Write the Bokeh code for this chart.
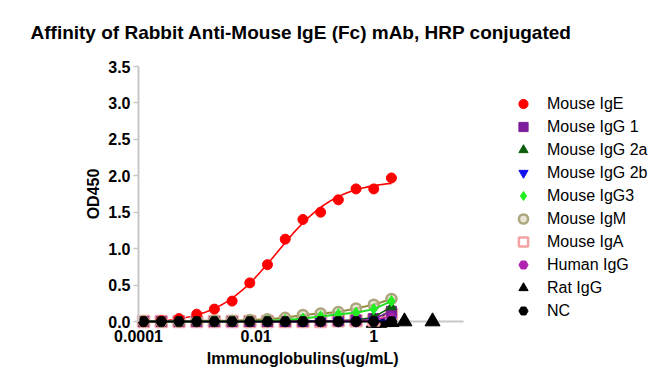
import numpy as np
from bokeh.plotting import figure
from bokeh.models import (Range1d, FixedTicker, PrintfTickFormatter, Legend, LegendItem,
                          ColumnDataSource)
from bokeh.core.properties import value
from bokeh.embed import file_html
from bokeh.resources import INLINE

# ---------------- data ----------------
conc = [0.000122, 0.000244, 0.000488, 0.000977, 0.00195, 0.00391, 0.00781,
        0.0156, 0.03125, 0.0625, 0.125, 0.25, 0.5, 1.0, 2.0]
mouse_ige = [0.00, 0.01, 0.04, 0.10, 0.17, 0.28, 0.53, 0.78, 1.13, 1.40, 1.50, 1.67, 1.82, 1.82, 1.97]
mouse_igg1 = [0.00, 0.00, 0.00, 0.00, 0.00, 0.00, 0.00, 0.00, 0.00, 0.00, 0.01, 0.01, 0.02, 0.04, 0.14]
mouse_igg2a = [0.00, 0.00, 0.00, 0.00, 0.00, 0.00, 0.00, 0.00, 0.00, 0.00, 0.01, 0.01, 0.02, 0.06, 0.20]
mouse_igg2b = [0.00, 0.00, 0.00, 0.00, 0.00, 0.00, 0.00, 0.00, 0.00, 0.00, 0.00, 0.00, 0.00, 0.01, 0.02]
mouse_igg3 = [0.00, 0.00, 0.00, 0.00, 0.00, 0.00, 0.00, 0.01, 0.02, 0.04, 0.07, 0.10, 0.12, 0.17, 0.28]
mouse_igm = [0.00, 0.00, 0.00, 0.01, 0.01, 0.01, 0.02, 0.03, 0.05, 0.09, 0.11, 0.13, 0.18, 0.23, 0.31]
mouse_iga = [0.00, 0.00, 0.00, 0.00, 0.00, 0.00, 0.00, 0.00, 0.00, 0.00, 0.00, 0.01, 0.01, 0.02, 0.10]
human_igg = [0.00, 0.00, 0.00, 0.00, 0.00, 0.00, 0.00, 0.00, 0.00, 0.00, 0.00, 0.01, 0.01, 0.02, 0.07]
nc = [0.00, 0.00, 0.00, 0.00, 0.00, 0.00, 0.00, 0.00, 0.00, 0.00, 0.00, 0.00, 0.00, 0.00, 0.00]
rat_conc = [1.0, 1.25, 1.5, 2.0, 3.33, 10.0]
rat_igg = [-0.02, -0.02, -0.01, -0.01, 0.00, 0.00]

x_ticks = [0.0001, 0.01, 1]
x_tick_labels = ["0.0001", "0.01", "1"]
y_ticks = [0.0, 0.5, 1.0, 1.5, 2.0, 2.5, 3.0, 3.5]

title_text = "Affinity of Rabbit Anti-Mouse IgE (Fc) mAb, HRP conjugated"
x_label = "Immunoglobulins(ug/mL)"
y_label = "OD450"

FONT = "Liberation Sans"
AXIS_GRAY = "#c8c8c8"

# axis extents (data units)
X_AXIS_START, X_AXIS_END = 0.0001, 33.6
Y_AXIS_START, Y_AXIS_END = 0.0, 3.5


# ---------------- 4PL least-squares fit of the IgE data ----------------
def fit_4pl(x, y):
    lx = np.log10(np.asarray(x))
    y = np.asarray(y)
    L = np.linspace(-2.8, -0.8, 201)[:, None, None]
    H = np.linspace(0.3, 2.5, 221)[None, :, None]
    s = 1.0 / (1.0 + 10 ** ((L - lx[None, None, :]) * H))
    sm = s.mean(axis=2, keepdims=True)
    ym = y.mean()
    b = ((s - sm) * (y - ym)).sum(axis=2, keepdims=True) / ((s - sm) ** 2).sum(axis=2, keepdims=True)
    a = ym - b * sm
    res = ((a + b * s - y) ** 2).sum(axis=2)
    i, j = np.unravel_index(np.argmin(res), res.shape)
    bottom = a[i, j, 0]
    top = bottom + b[i, j, 0]
    return bottom, top, L[i, 0, 0], H[0, j, 0]


bot, top, logec50, hill = fit_4pl(conc, mouse_ige)
xf = np.logspace(np.log10(conc[0]), np.log10(conc[-1]), 200)
yf = bot + (top - bot) / (1 + 10 ** ((logec50 - np.log10(xf)) * hill))

# ---------------- figure ----------------
# The plotting frame is larger than the axes so that the legend and the axis texts
# are drawn inside it (and are not clipped); the axes sit at fixed data positions.
FRAME_LEFT, FRAME_TOP, W, H = 60, 50, 661, 372
AXIS_LEFT_PX, AXIS_RIGHT_PX, AXIS_TOP_PX, ZERO_PX = 138, 463, 66, 321
dec_per_px = np.log10(X_AXIS_END / X_AXIS_START) / (AXIS_RIGHT_PX - AXIS_LEFT_PX)
x_start = X_AXIS_START * 10 ** (-dec_per_px * (AXIS_LEFT_PX - FRAME_LEFT))
x_end = X_AXIS_START * 10 ** (dec_per_px * (W - AXIS_LEFT_PX))
unit_per_px = Y_AXIS_END / (ZERO_PX - AXIS_TOP_PX)
y_start = -unit_per_px * (H - ZERO_PX)
y_end = Y_AXIS_END + unit_per_px * (AXIS_TOP_PX - FRAME_TOP)

p = figure(width=W, height=H, x_axis_type="log", x_axis_location=None,
           x_range=Range1d(x_start, x_end), y_range=Range1d(y_start, y_end),
           output_backend="svg", toolbar_location=None,
           min_border_left=FRAME_LEFT, min_border_right=0, min_border_top=FRAME_TOP,
           min_border_bottom=0, title=title_text)
p.outline_line_color = None
p.grid.grid_line_color = None
p.background_fill_color = "white"

p.title.text_font = FONT
p.title.text_font_size = "19px"
p.title.text_font_style = "bold"
p.title.text_color = "black"
p.title.align = "left"
p.title.offset = 30 - FRAME_LEFT
p.title.standoff = 15

ya = p.yaxis[0]
ya.fixed_location = X_AXIS_START
ya.ticker = FixedTicker(ticks=y_ticks, minor_ticks=[])
ya.formatter = PrintfTickFormatter(format="%.1f")
ya.bounds = (Y_AXIS_START, Y_AXIS_END)
ya.axis_line_color = AXIS_GRAY
ya.axis_line_width = 2
ya.major_tick_line_color = AXIS_GRAY
ya.major_tick_line_width = 1.5
ya.major_tick_in = 0
ya.major_tick_out = 5
ya.minor_tick_line_color = None
ya.major_label_standoff = 3
ya.major_label_text_font = FONT
ya.major_label_text_font_size = "16px"
ya.major_label_text_font_style = "bold"
ya.major_label_text_color = "black"
ya.axis_label = y_label
ya.axis_label_standoff = 3
ya.axis_label_text_font = FONT
ya.axis_label_text_font_size = "16px"
ya.axis_label_text_font_style = "bold"
ya.axis_label_text_color = "black"

# x axis: line at y = 0, tick labels and title below it
p.segment(x0=[X_AXIS_START], y0=[0], x1=[X_AXIS_END], y1=[0],
          line_color=AXIS_GRAY, line_width=2, level="underlay")
tick_src = ColumnDataSource(dict(x=x_ticks, y=[-0.20] * len(x_ticks), text=x_tick_labels))
p.text(x="x", y="y", text="text", source=tick_src, text_align="center",
       text_baseline="middle", text_font=value(FONT), text_font_size="16px",
       text_font_style="bold", text_color="black")
p.text(x=[0.062], y=[-0.51], text=[x_label], text_align="center",
       text_baseline="middle", text_font=value(FONT), text_font_size="16px",
       text_font_style="bold", text_color="black")

# ---------------- series ----------------
p.line(xf, yf, line_color="#ff0000", line_width=1.6)   # IgE fitted curve

series = [
    # label, xs, ys, marker, size, line color, fill color, fill alpha, marker line width, draw line
    ("Rat IgG", rat_conc, rat_igg, "triangle", 15, "black", "black", 1.0, 1, False),
    ("Mouse IgA", conc, mouse_iga, "square", 11, "#f4a3a3", "white", 0.0, 2.5, True),
    ("Mouse IgG 1", conc, mouse_igg1, "square", 10, "#7d1e9c", "#7d1e9c", 1.0, 1, True),
    ("Mouse IgG 2a", conc, mouse_igg2a, "triangle", 10, "#0b5e0b", "#0b5e0b", 1.0, 1, True),
    ("Mouse IgG 2b", conc, mouse_igg2b, "inverted_triangle", 10, "#1010ee", "#1010ee", 1.0, 1, True),
    ("Mouse IgM", conc, mouse_igm, "circle", 10, "#aca67f", "#d8d4bd", 0.6, 2.5, True),
    ("Mouse IgG3", conc, mouse_igg3, "diamond", 11, "#22ee22", "#22ee22", 1.0, 1, True),
    ("Human IgG", conc, human_igg, "hex", 7, "#b022b0", "#b022b0", 1.0, 1, True),
    ("Mouse IgE", conc, mouse_ige, "circle", 10, "#ff0000", "#ff0000", 1.0, 1, False),
    ("NC", conc, nc, "hex", 11, "black", "black", 1.0, 1, True),
]
line_colors = {"Mouse IgM": "#8f8a3c", "Mouse IgG3": "#22dd22"}
renderers = {}
for label, xs, ys, marker, size, lc, fc, fa, lw, draw_line in series:
    if draw_line:
        p.line(xs, ys, line_color=line_colors.get(label, lc),
               line_width=2 if label in ("NC", "Mouse IgG3", "Mouse IgM") else 1.5)
    r = p.scatter(xs, ys, marker=marker, size=size, line_color=lc, fill_color=fc,
                  fill_alpha=fa, line_width=lw)
    renderers[label] = r

legend_order = ["Mouse IgE", "Mouse IgG 1", "Mouse IgG 2a", "Mouse IgG 2b", "Mouse IgG3",
                "Mouse IgM", "Mouse IgA", "Human IgG", "Rat IgG", "NC"]
items = [LegendItem(label=name, renderers=[renderers[name]]) for name in legend_order]

legend = Legend(items=items, location=(511 - FRAME_LEFT, 50), orientation="vertical",
                glyph_width=24, glyph_height=23, label_height=23, spacing=0,
                padding=0, margin=0, label_standoff=12,
                label_text_font=FONT, label_text_font_size="16px",
                label_text_color="black",
                border_line_color=None, background_fill_alpha=0)
p.add_layout(legend, "center")

open("out.html", "w").write(file_html(p, INLINE))
